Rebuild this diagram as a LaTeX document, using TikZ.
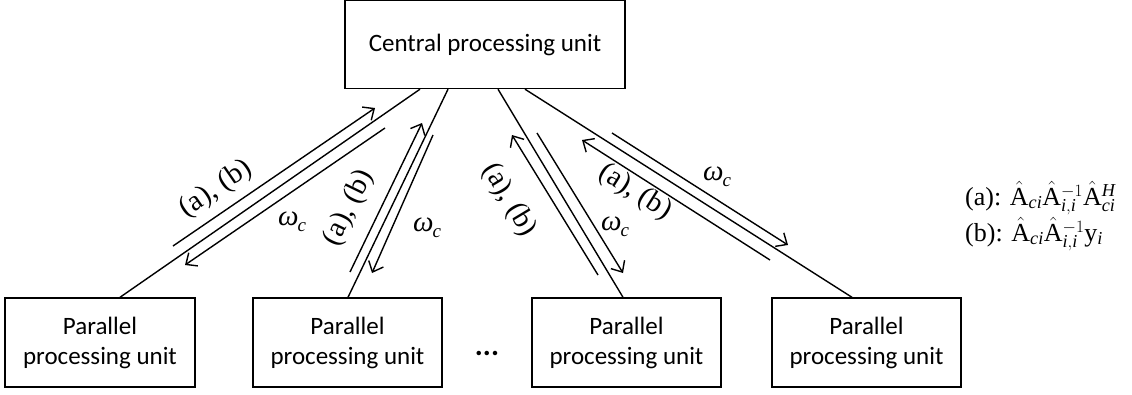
\documentclass[tikz,border=0pt]{standalone}
\usepackage{fontspec}
\setmainfont{Liberation Serif}
\setsansfont{Carlito}
\usetikzlibrary{arrows.meta}
\tikzset{
  unit/.style={draw, line width=1.4pt, inner sep=0pt, align=center, font=\sffamily\fontsize{25}{30}\selectfont},
  link/.style={line width=1.4pt},
  flow/.style={line width=1.4pt, -{Straight Barb[length=9pt,width=16pt,line width=1.4pt]}},
  lab/.style={font=\fontsize{29}{30}\selectfont, inner sep=0pt},
  formula/.style={font=\fontsize{26}{28}\selectfont, anchor=west, inner sep=0pt}
}
\newcommand{\wc}{\textit{ω}\kern-1pt\raisebox{-6pt}{\fontsize{19}{19}\selectfont\textit{c}}}
\begin{document}
\begin{tikzpicture}[x=1pt,y=-1pt]
\useasboundingbox (0,0) rectangle (1132,394);
\node[unit, minimum width=280pt, minimum height=88pt] (cpu) at (485,44.5) {Central processing unit};
\node[unit, minimum width=190pt, minimum height=89pt] (p1) at (100,342.5) {Parallel\\processing unit};
\node[unit, minimum width=189pt, minimum height=89pt] (p2) at (347.5,342.5) {Parallel\\processing unit};
\node[unit, minimum width=189pt, minimum height=89pt] (p3) at (626.5,342.5) {Parallel\\processing unit};
\node[unit, minimum width=189pt, minimum height=89pt] (p4) at (866.5,342.5) {Parallel\\processing unit};
\node[font=\sffamily\bfseries\fontsize{30}{30}\selectfont, anchor=base, inner sep=0pt] (dots) at (487,355) {...};

\draw[link] ([xshift=20pt]p1.north) -- ([xshift=-65pt]cpu.south);
\draw[link] ([xshift=0.5pt]p2.north) -- ([xshift=-37pt]cpu.south);
\draw[link] ([xshift=-3.5pt]p3.north) -- ([xshift=13pt]cpu.south);
\draw[link] ([xshift=-14.5pt]p4.north) -- ([xshift=40pt]cpu.south);

\coordinate (a1s) at (173,246); \coordinate (a1e) at (375,108);
\coordinate (b1s) at (385,128); \coordinate (b1e) at (185,265);
\coordinate (a2s) at (350,272); \coordinate (a2e) at (422,123);
\coordinate (b2s) at (433,135); \coordinate (b2e) at (372,273);
\coordinate (a3s) at (598,275); \coordinate (a3e) at (512,135);
\coordinate (b3s) at (537,133); \coordinate (b3e) at (623,273);
\coordinate (a4s) at (770,260); \coordinate (a4e) at (582,140);
\coordinate (b4s) at (612,133); \coordinate (b4e) at (788,245);
\draw[flow] (a1s) -- (a1e);
\draw[flow] (b1s) -- (b1e);
\draw[flow] (a2s) -- (a2e);
\draw[flow] (b2s) -- (b2e);
\draw[flow] (a3s) -- (a3e);
\draw[flow] (b3s) -- (b3e);
\draw[flow] (a4s) -- (a4e);
\draw[flow] (b4s) -- (b4e);

\node[lab, rotate=34.6] (l1) at (216,189) {(a), (b)};
\node[lab, rotate=64] (l2) at (349,208) {(a), (b)};
\node[lab, rotate=-59] (l3) at (509,200) {(a), (b)};
\node[lab, rotate=-32.3] (l4) at (635,192) {(a), (b)};
\node[lab] (w1) at (292,222) {\wc};
\node[lab] (w2) at (427,228) {\wc};
\node[lab] (w3) at (615,227) {\wc};
\node[lab] (w4) at (717,177) {\wc};

\node[formula] (fa) at (965,198) {(a): $\hat{\mathrm{A}}_{\mathit{ci}}\hat{\mathrm{A}}_{\mathit{i,i}}^{-1}\hat{\mathrm{A}}_{\mathit{ci}}^{\mathit{H}}$};
\node[formula] (fb) at (965,234) {(b): $\hat{\mathrm{A}}_{\mathit{ci}}\hat{\mathrm{A}}_{\mathit{i,i}}^{-1}\mathrm{y}_{\mathit{i}}$};
\end{tikzpicture}
\end{document}
